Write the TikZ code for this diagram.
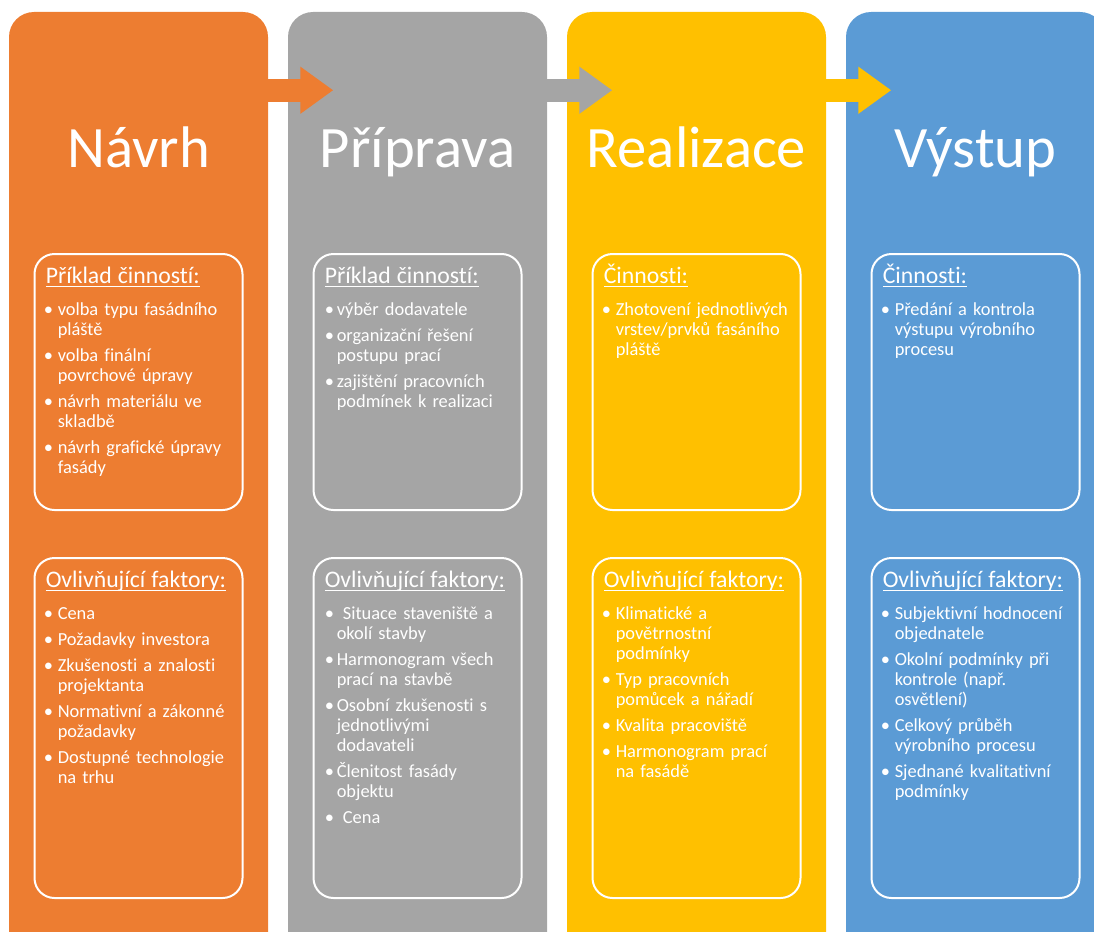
\documentclass[tikz,border=0pt]{standalone}
\usepackage{fontspec}
\setmainfont{Carlito}[Ligatures=NoCommon]
\usetikzlibrary{arrows.meta}

\definecolor{navrhcol}{HTML}{ED7D31}
\definecolor{pripravacol}{HTML}{A5A5A5}
\definecolor{realizacecol}{HTML}{FFC000}
\definecolor{vystupcol}{HTML}{5B9BD5}

% one bullet item, hanging indent, optional gap between bullet and text
\newcommand{\bul}[2][3.5pt]{\par\vspace{4.5pt}\hangindent=9pt\hangafter=1\noindent\makebox[9pt][r]{\textbullet\hspace{#1}}#2\par}
% underlined heading of a box
\newcommand{\underhead}[1]{\noindent{\fontsize{17.8}{21}\selectfont\setbox0\hbox{#1}\rlap{\rule[-2.4pt]{\wd0}{0.8pt}}\box0}\par\vspace{4.5pt}}

\begin{document}
\begin{tikzpicture}[x=0.75pt,y=-0.75pt,
  column/.style={minimum width=194.25pt,minimum height=750pt,rounded corners=18.75pt,inner sep=0pt},
  box/.style={draw=white,line width=1.5pt,rounded corners=15pt,minimum width=156pt,inner sep=0pt},
  title/.style={text=white,font=\fontsize{44}{50}\selectfont,anchor=base,inner sep=0pt},
  flow/.style={line width=17.25pt,-{Triangle[length=24.75pt,width=33.75pt]}},
  txt/.style={text=white,text width=142pt,align=left,inner sep=0pt,anchor=base west,font=\fontsize{13.8}{15}\selectfont}]

\useasboundingbox (0,0) rectangle (1094,931);
\clip (0,0) rectangle (1094,931);

%the four phase columns
\node[column,fill=navrhcol] (navrh) at (138.5,512) {};
\node[column,fill=pripravacol] (priprava) at (417.5,512) {};
\node[column,fill=realizacecol] (realizace) at (696.5,512) {};
\node[column,fill=vystupcol] (vystup) at (975.5,512) {};

%arrows from one phase to the next
\draw[flow,navrhcol] ([yshift=-58.875pt]navrh.north east) -- ++(65,0);
\draw[flow,pripravacol] ([yshift=-58.875pt]priprava.north east) -- ++(65,0);
\draw[flow,realizacecol] ([yshift=-58.875pt]realizace.north east) -- ++(65,0);

%phase names
\node[title] (navrhT) at ([yshift=-117pt]navrh.north) {Návrh};
\node[title] (pripravaT) at ([yshift=-117pt]priprava.north) {Příprava};
\node[title] (realizaceT) at ([yshift=-117pt]realizace.north) {Realizace};
\node[title] (vystupT) at ([yshift=-117pt]vystup.north) {Výstup};

%white framed boxes, activities on top, factors below
\node[box,minimum height=192pt] (navrhA) at (138.5,382) {};
\node[box,minimum height=255pt] (navrhB) at (138.5,728) {};
\node[box,minimum height=192pt] (pripravaA) at (417.5,382) {};
\node[box,minimum height=255pt] (pripravaB) at (417.5,728) {};
\node[box,minimum height=192pt] (realizaceA) at (696.5,382) {};
\node[box,minimum height=255pt] (realizaceB) at (696.5,728) {};
\node[box,minimum height=192pt] (vystupA) at (975.5,382) {};
\node[box,minimum height=255pt] (vystupB) at (975.5,728) {};

%texts of the boxes
\node[txt] (navrhAtxt) at ([xshift=9pt,yshift=-23pt]navrhA.north west) {\underhead{Příklad činností:}%
  \bul{volba typu fasádního\newline pláště}%
  \bul{volba finální\newline povrchové úpravy}%
  \bul{návrh materiálu ve\newline skladbě}%
  \bul{návrh grafické úpravy\newline fasády}};
\node[txt] (navrhBtxt) at ([xshift=9pt,yshift=-23pt]navrhB.north west) {\underhead{Ovlivňující faktory:}%
  \bul{Cena}%
  \bul{Požadavky investora}%
  \bul{Zkušenosti a znalosti\newline projektanta}%
  \bul{Normativní a zákonné\newline požadavky}%
  \bul{Dostupné technologie\newline na trhu}};

\node[txt] (pripravaAtxt) at ([xshift=9pt,yshift=-23pt]pripravaA.north west) {\underhead{Příklad činností:}%
  \bul[2pt]{výběr dodavatele}%
  \bul[2pt]{organizační řešení\newline postupu prací}%
  \bul[2pt]{zajištění pracovních\newline podmínek k realizaci}};
\node[txt] (pripravaBtxt) at ([xshift=9pt,yshift=-23pt]pripravaB.north west) {\underhead{Ovlivňující faktory:}%
  \bul[2pt]{\ Situace staveniště a\newline okolí stavby}%
  \bul[2pt]{Harmonogram všech\newline prací na stavbě}%
  \bul[2pt]{Osobní zkušenosti s\newline jednotlivými\newline dodavateli}%
  \bul[2pt]{Členitost fasády\newline objektu}%
  \bul[2pt]{\ Cena}};

\node[txt] (realizaceAtxt) at ([xshift=9pt,yshift=-23pt]realizaceA.north west) {\underhead{Činnosti:}%
  \bul{Zhotovení jednotlivých\newline vrstev/prvků fasáního\newline pláště}};
\node[txt] (realizaceBtxt) at ([xshift=9pt,yshift=-23pt]realizaceB.north west) {\underhead{Ovlivňující faktory:}%
  \bul{Klimatické a\newline povětrnostní\newline podmínky}%
  \bul{Typ pracovních\newline pomůcek a nářadí}%
  \bul{Kvalita pracoviště}%
  \bul{Harmonogram prací\newline na fasádě}};

\node[txt] (vystupAtxt) at ([xshift=9pt,yshift=-23pt]vystupA.north west) {\underhead{Činnosti:}%
  \bul{Předání a kontrola\newline výstupu výrobního\newline procesu}};
\node[txt] (vystupBtxt) at ([xshift=9pt,yshift=-23pt]vystupB.north west) {\underhead{Ovlivňující faktory:}%
  \bul{Subjektivní hodnocení\newline objednatele}%
  \bul{Okolní podmínky při\newline kontrole (např.\newline osvětlení)}%
  \bul{Celkový průběh\newline výrobního procesu}%
  \bul{Sjednané kvalitativní\newline podmínky}};
\end{tikzpicture}
\end{document}
